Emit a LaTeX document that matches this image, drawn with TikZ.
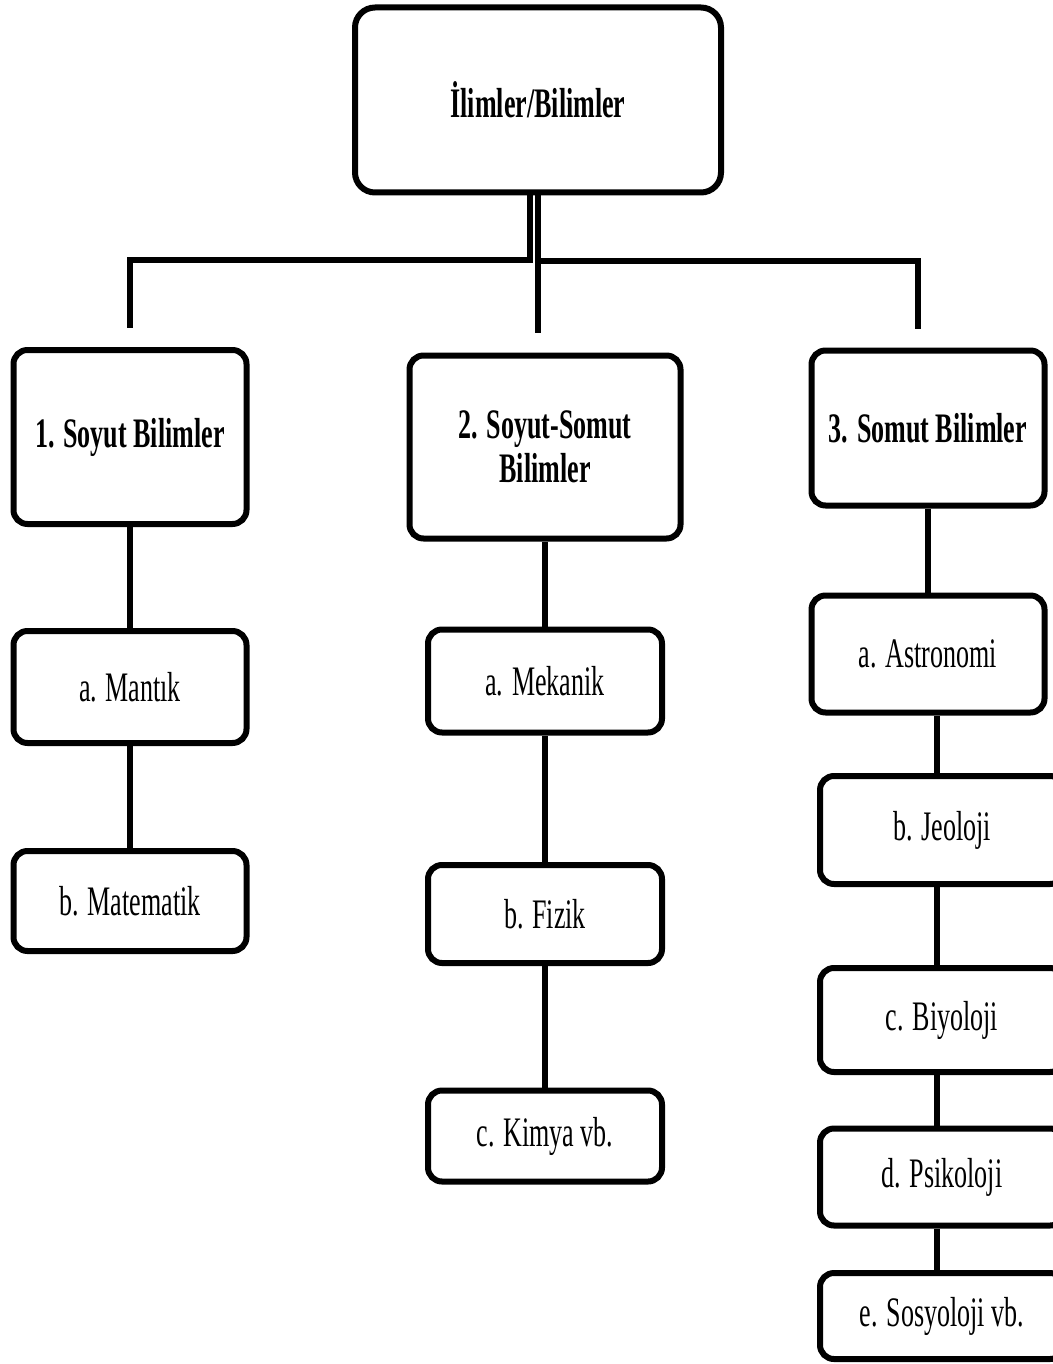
\documentclass[tikz,border=0pt]{standalone}
\usepackage{fontspec}
\setmainfont[FakeStretch=0.62]{Liberation Serif}
\tikzset{
  box/.style={draw, line width=6pt, rounded corners=14pt, align=center,
    font=\fontsize{42}{44}\selectfont, inner sep=0pt},
  head/.style={box, font=\fontsize{42}{44}\selectfont\bfseries},
  conn/.style={line width=6pt}
}
\begin{document}
\begin{tikzpicture}[x=1pt,y=-1pt]
                \useasboundingbox (0,0) rectangle (1052,1364);
                \node[head, minimum width=366pt, minimum height=185pt, rounded corners=20pt] (top) at (538,100) {İlimler/Bilimler};
                \node[head, minimum width=233pt, minimum height=174pt] (soyut) at (130,437) {1. Soyut Bilimler};
                \node[head, minimum width=271pt, minimum height=183pt] (ss) at (545,447) {2. Soyut-Somut\\Bilimler};
                \node[head, minimum width=233pt, minimum height=155pt] (somut) at (928,428) {3. Somut Bilimler};
                \node[box, minimum width=233pt, minimum height=112pt] (mantik) at (130,687) {a. Mantık};
                \node[box, minimum width=233pt, minimum height=100pt] (matematik) at (130,901) {b. Matematik};
                \node[box, minimum width=234pt, minimum height=103pt] (mekanik) at (545,681) {a. Mekanik};
                \node[box, minimum width=234pt, minimum height=98pt] (fizik) at (545,914) {b. Fizik};
                \node[box, minimum width=234pt, minimum height=91pt] (kimya) at (545,1136) {c. Kimya vb.};
                \node[box, minimum width=233pt, minimum height=117pt] (astronomi) at (928,654) {a. Astronomi};
                % cut off at the right edge
                \node[box, minimum width=244pt, minimum height=108pt] (jeoloji) at (942,830) {b. Jeoloji};
                \node[box, minimum width=244pt, minimum height=104pt] (biyoloji) at (942,1020) {c. Biyoloji};
                \node[box, minimum width=244pt, minimum height=97pt] (psikoloji) at (942,1177) {d. Psikoloji};
                \node[box, minimum width=244pt, minimum height=86pt] (sosyoloji) at (942,1316) {e. Sosyoloji vb.};
                % top level
                \draw[conn, shorten >=19pt] ([xshift=-8pt]top.south) |- ([yshift=87pt]soyut.north) -- (soyut.north);
                \draw[conn, shorten >=20pt] (top.south) -- (top.south |- ss.north);
                \draw[conn, shorten >=19pt] (top.south) |- ([xshift=-10pt, yshift=87pt]somut.north) -- ([xshift=-10pt]somut.north);
                % columns
                \draw[conn] (soyut) -- (mantik);
                \draw[conn] (mantik) -- (matematik);
                \draw[conn] (ss) -- (mekanik);
                \draw[conn] (mekanik) -- (fizik);
                \draw[conn] (fizik) -- (kimya);
                \draw[conn] (somut) -- (astronomi);
                \draw[conn] ([xshift=-5pt]jeoloji.north |- astronomi.south) -- ([xshift=-5pt]jeoloji.north);
                \draw[conn] ([xshift=-5pt]jeoloji.south) -- ([xshift=-5pt]biyoloji.north);
                \draw[conn] ([xshift=-5pt]biyoloji.south) -- ([xshift=-5pt]psikoloji.north);
                \draw[conn] ([xshift=-5pt]psikoloji.south) -- ([xshift=-5pt]sosyoloji.north);
            \end{tikzpicture}
\end{document}
